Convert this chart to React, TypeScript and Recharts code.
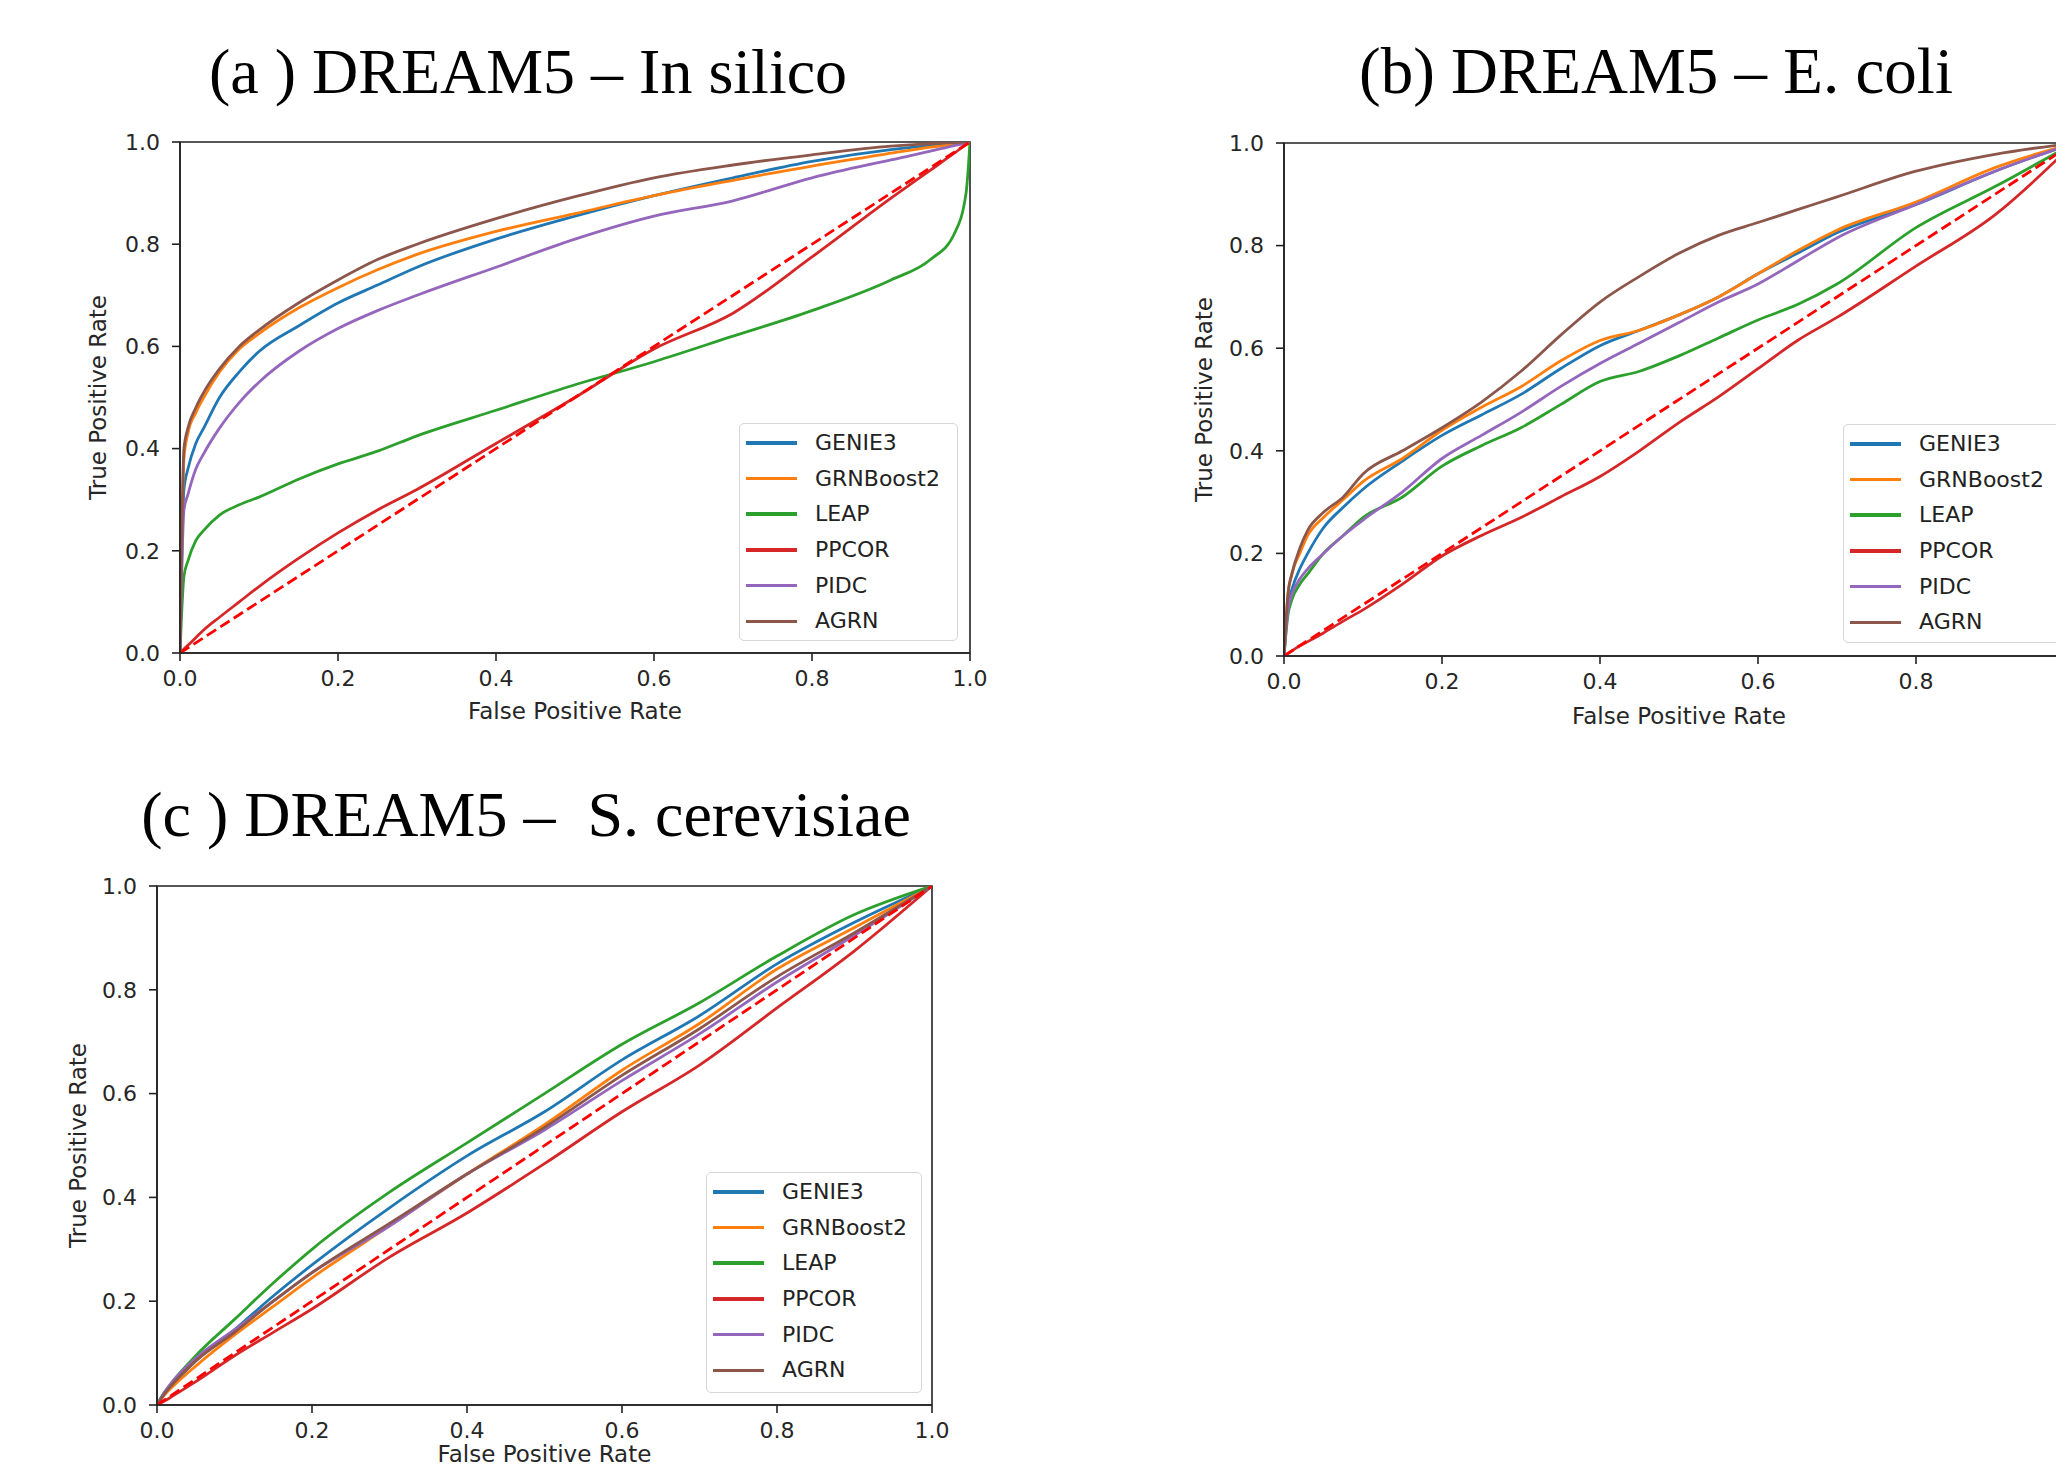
import { LineChart, Line, XAxis, YAxis, ReferenceArea, Legend } from 'recharts';

const methods = ['GENIE3', 'GRNBoost2', 'LEAP', 'PPCOR', 'PIDC', 'AGRN'];
const methodColors = ['#1f77b4', '#ff7f0e', '#2ca02c', '#d62728', '#9467bd', '#8c564b'];
const axisTicks = [0, 0.2, 0.4, 0.6, 0.8, 1];
// panel (b) is cut by the page edge, so its 1.0 tick is not visible
const axisTicksCut = [0, 0.2, 0.4, 0.6, 0.8];
const chanceFpr = [0, 1];
const chanceTpr = [0, 1];

// (a) DREAM5 - In silico
const fprA = [0, 0.005, 0.01, 0.02, 0.03, 0.05, 0.075, 0.1, 0.15, 0.2, 0.25, 0.3, 0.4, 0.5, 0.6, 0.7, 0.8, 0.9, 0.95, 0.98, 0.995, 1];
const genie3A = [0, 0.32, 0.36, 0.41, 0.44, 0.5, 0.55, 0.59, 0.64, 0.685, 0.72, 0.755, 0.81, 0.855, 0.895, 0.93, 0.962, 0.985, 0.993, 0.997, 0.999, 1];
const grnboost2A = [0, 0.38, 0.43, 0.47, 0.5, 0.55, 0.595, 0.625, 0.675, 0.715, 0.75, 0.78, 0.825, 0.86, 0.895, 0.925, 0.953, 0.978, 0.99, 0.996, 0.999, 1];
const leapA = [0, 0.15, 0.18, 0.22, 0.24, 0.27, 0.29, 0.305, 0.34, 0.37, 0.395, 0.425, 0.475, 0.525, 0.57, 0.62, 0.67, 0.73, 0.77, 0.82, 0.9, 1];
const ppcorA = [0, 0.008, 0.015, 0.03, 0.045, 0.07, 0.1, 0.13, 0.185, 0.235, 0.28, 0.32, 0.41, 0.5, 0.595, 0.665, 0.775, 0.89, 0.945, 0.978, 0.995, 1];
const pidcA = [0, 0.28, 0.31, 0.36, 0.39, 0.44, 0.49, 0.53, 0.59, 0.635, 0.67, 0.7, 0.755, 0.81, 0.855, 0.885, 0.93, 0.965, 0.982, 0.993, 0.998, 1];
const agrnA = [0, 0.4, 0.44, 0.48, 0.51, 0.556, 0.6, 0.632, 0.685, 0.73, 0.77, 0.8, 0.85, 0.893, 0.93, 0.955, 0.975, 0.992, 0.997, 0.999, 1, 1];

// (b) DREAM5 - E. coli
const fprB = [0, 0.005, 0.01, 0.02, 0.03, 0.05, 0.075, 0.1, 0.15, 0.2, 0.25, 0.3, 0.35, 0.4, 0.45, 0.5, 0.55, 0.6, 0.65, 0.7, 0.8, 0.9, 1];
const genie3B = [0, 0.1, 0.13, 0.17, 0.2, 0.25, 0.29, 0.325, 0.38, 0.43, 0.47, 0.51, 0.56, 0.605, 0.635, 0.665, 0.7, 0.745, 0.785, 0.825, 0.88, 0.945, 1];
const grnboost2B = [0, 0.12, 0.16, 0.2, 0.235, 0.27, 0.305, 0.34, 0.385, 0.44, 0.485, 0.525, 0.575, 0.615, 0.635, 0.665, 0.7, 0.745, 0.79, 0.83, 0.885, 0.952, 1];
const leapB = [0, 0.08, 0.11, 0.14, 0.16, 0.2, 0.235, 0.27, 0.31, 0.37, 0.41, 0.445, 0.49, 0.535, 0.555, 0.585, 0.62, 0.655, 0.685, 0.725, 0.835, 0.915, 1];
const ppcorB = [0, 0.005, 0.01, 0.02, 0.028, 0.045, 0.068, 0.09, 0.14, 0.195, 0.235, 0.27, 0.31, 0.35, 0.4, 0.455, 0.505, 0.56, 0.615, 0.66, 0.76, 0.86, 1];
const pidcB = [0, 0.09, 0.12, 0.15, 0.17, 0.2, 0.235, 0.265, 0.32, 0.385, 0.43, 0.475, 0.525, 0.57, 0.61, 0.65, 0.69, 0.725, 0.77, 0.815, 0.88, 0.945, 1];
const agrnB = [0, 0.12, 0.16, 0.21, 0.245, 0.28, 0.31, 0.355, 0.4, 0.445, 0.495, 0.555, 0.625, 0.69, 0.74, 0.785, 0.82, 0.845, 0.87, 0.895, 0.945, 0.978, 1];

// (c) DREAM5 - S. cerevisiae
const fprC = [0, 0.01, 0.02, 0.05, 0.1, 0.15, 0.2, 0.3, 0.4, 0.5, 0.6, 0.7, 0.8, 0.9, 1];
const genie3C = [0, 0.025, 0.04, 0.085, 0.145, 0.21, 0.27, 0.38, 0.48, 0.565, 0.665, 0.75, 0.85, 0.93, 1];
const grnboost2C = [0, 0.02, 0.035, 0.075, 0.135, 0.19, 0.245, 0.345, 0.445, 0.54, 0.645, 0.735, 0.84, 0.92, 1];
const leapC = [0, 0.025, 0.045, 0.095, 0.165, 0.235, 0.3, 0.41, 0.505, 0.6, 0.695, 0.775, 0.865, 0.945, 1];
const ppcorC = [0, 0.008, 0.017, 0.045, 0.095, 0.14, 0.185, 0.285, 0.37, 0.465, 0.565, 0.655, 0.765, 0.875, 1];
const pidcC = [0, 0.025, 0.045, 0.09, 0.145, 0.2, 0.255, 0.345, 0.445, 0.53, 0.625, 0.715, 0.815, 0.905, 1];
const agrnC = [0, 0.022, 0.04, 0.085, 0.14, 0.2, 0.255, 0.35, 0.445, 0.535, 0.635, 0.725, 0.825, 0.91, 1];

function buildTable(fpr: number[], series: number[][]) {
  return fpr.map((x, i) => {
    const row: Record<string, number> = { x };
    methods.forEach((m, k) => {
      row[m] = series[k][i];
    });
    return row;
  });
}

const chanceData = chanceFpr.map((x, i) => ({ x, tpr: chanceTpr[i] }));

const tickFont = { fontFamily: '"DejaVu Sans", sans-serif', fontSize: 22, fill: '#262626' };
const labelFont = { fontFamily: '"DejaVu Sans", sans-serif', fontSize: 23, fill: '#262626' };

function RocLegend({ w, h }: { w: number; h: number }) {
  return (
    <div
      style={{
        width: w,
        height: h,
        boxSizing: 'border-box',
        border: '1.5px solid #d6d6d6',
        borderRadius: 5,
        background: 'rgba(255,255,255,0.85)',
        paddingLeft: 6,
        paddingTop: 1,
        fontFamily: '"DejaVu Sans", sans-serif',
        fontSize: 22,
        color: '#222',
      }}
    >
      {methods.map((m, i) => (
        <div key={m} style={{ display: 'flex', alignItems: 'center', height: 35.7 }}>
          <span style={{ display: 'inline-block', width: 51, height: 3.5, background: methodColors[i] }} />
          <span style={{ marginLeft: 18, lineHeight: 1 }}>{m}</span>
        </div>
      ))}
    </div>
  );
}

type PanelProps = {
  data: Record<string, number>[];
  box: { left: number; top: number; width: number; height: number };
  margin: { top: number; right: number; bottom: number; left: number };
  xTicks: number[];
  yLabelOffset: number;
  xLabelOffset: number;
  legend: { left: number; top: number; w: number; h: number };
};

function RocPanel({ data, box, margin, xTicks, yLabelOffset, xLabelOffset, legend }: PanelProps) {
  return (
    <div style={{ position: 'absolute', left: box.left, top: box.top }}>
      <LineChart width={box.width} height={box.height} data={data} margin={margin}>
        <XAxis
          type="number"
          dataKey="x"
          domain={[0, 1]}
          ticks={xTicks}
          allowDataOverflow
          height={70}
          tickFormatter={(v: number) => v.toFixed(1)}
          tick={tickFont}
          tickSize={8}
          tickMargin={9}
          stroke="#222"
          strokeWidth={1.6}
          label={{ value: 'False Positive Rate', position: 'insideBottom', offset: xLabelOffset, style: labelFont }}
        />
        <YAxis
          type="number"
          domain={[0, 1]}
          ticks={axisTicks}
          allowDataOverflow
          width={120}
          tickFormatter={(v: number) => v.toFixed(1)}
          tick={tickFont}
          tickSize={8}
          tickMargin={12}
          stroke="#222"
          strokeWidth={1.6}
          label={{
            value: 'True Positive Rate',
            angle: -90,
            position: 'insideLeft',
            offset: yLabelOffset,
            style: { ...labelFont, textAnchor: 'middle' },
          }}
        />
        <ReferenceArea x1={0} x2={1} y1={0} y2={1} fill="none" stroke="#222" strokeWidth={1.6} ifOverflow="visible" />
        {methods.map((m, i) => (
          <Line
            key={m}
            type="monotone"
            dataKey={m}
            name={m}
            stroke={methodColors[i]}
            strokeWidth={2.8}
            dot={false}
            activeDot={false}
            isAnimationActive={false}
          />
        ))}
        <Line
          data={chanceData}
          type="linear"
          dataKey="tpr"
          stroke="#ff0000"
          strokeWidth={2.8}
          strokeDasharray="11 5"
          dot={false}
          activeDot={false}
          legendType="none"
          isAnimationActive={false}
        />
        <Legend
          layout="vertical"
          align="center"
          verticalAlign="middle"
          wrapperStyle={{ left: legend.left, top: legend.top, width: legend.w }}
          content={() => <RocLegend w={legend.w} h={legend.h} />}
        />
      </LineChart>
    </div>
  );
}

function Title({ text, center, top, size }: { text: string; center: number; top: number; size: number }) {
  return (
    <div
      style={{
        position: 'absolute',
        left: center - 600,
        width: 1200,
        top,
        textAlign: 'center',
        fontFamily: '"Liberation Serif", "Times New Roman", serif',
        fontSize: size,
        lineHeight: 1,
        whiteSpace: 'pre',
        color: '#000',
      }}
    >
      {text}
    </div>
  );
}

export default function App() {
  const tableA = buildTable(fprA, [genie3A, grnboost2A, leapA, ppcorA, pidcA, agrnA]);
  const tableB = buildTable(fprB, [genie3B, grnboost2B, leapB, ppcorB, pidcB, agrnB]);
  const tableC = buildTable(fprC, [genie3C, grnboost2C, leapC, ppcorC, pidcC, agrnC]);

  return (
    <div style={{ position: 'absolute', left: 0, top: 0, width: 2056, height: 1466, overflow: 'hidden', background: '#fff' }}>
      <Title text="(a ) DREAM5 – In silico" center={528} top={40} size={64} />
      <Title text="(b) DREAM5 – E. coli" center={1656} top={39} size={65} />
      <Title text="(c ) DREAM5 –  S. cerevisiae" center={526} top={783} size={64} />

      <RocPanel
        data={tableA}
        box={{ left: 0, top: 100, width: 1000, height: 640 }}
        margin={{ top: 42, right: 30, bottom: 17, left: 60 }}
        xTicks={axisTicks}
        yLabelOffset={38}
        xLabelOffset={4}
        legend={{ left: 739, top: 323, w: 219, h: 218 }}
      />
      <RocPanel
        data={tableB}
        box={{ left: 1100, top: 100, width: 1000, height: 640 }}
        margin={{ top: 43, right: 26, bottom: 14, left: 64 }}
        xTicks={axisTicksCut}
        yLabelOffset={40}
        xLabelOffset={2}
        legend={{ left: 743, top: 324, w: 219, h: 219 }}
      />
      <RocPanel
        data={tableC}
        box={{ left: 0, top: 840, width: 1000, height: 700 }}
        margin={{ top: 46, right: 68, bottom: 65, left: 37 }}
        xTicks={axisTicks}
        yLabelOffset={41}
        xLabelOffset={13}
        legend={{ left: 706, top: 332, w: 216, h: 221 }}
      />
    </div>
  );
}
